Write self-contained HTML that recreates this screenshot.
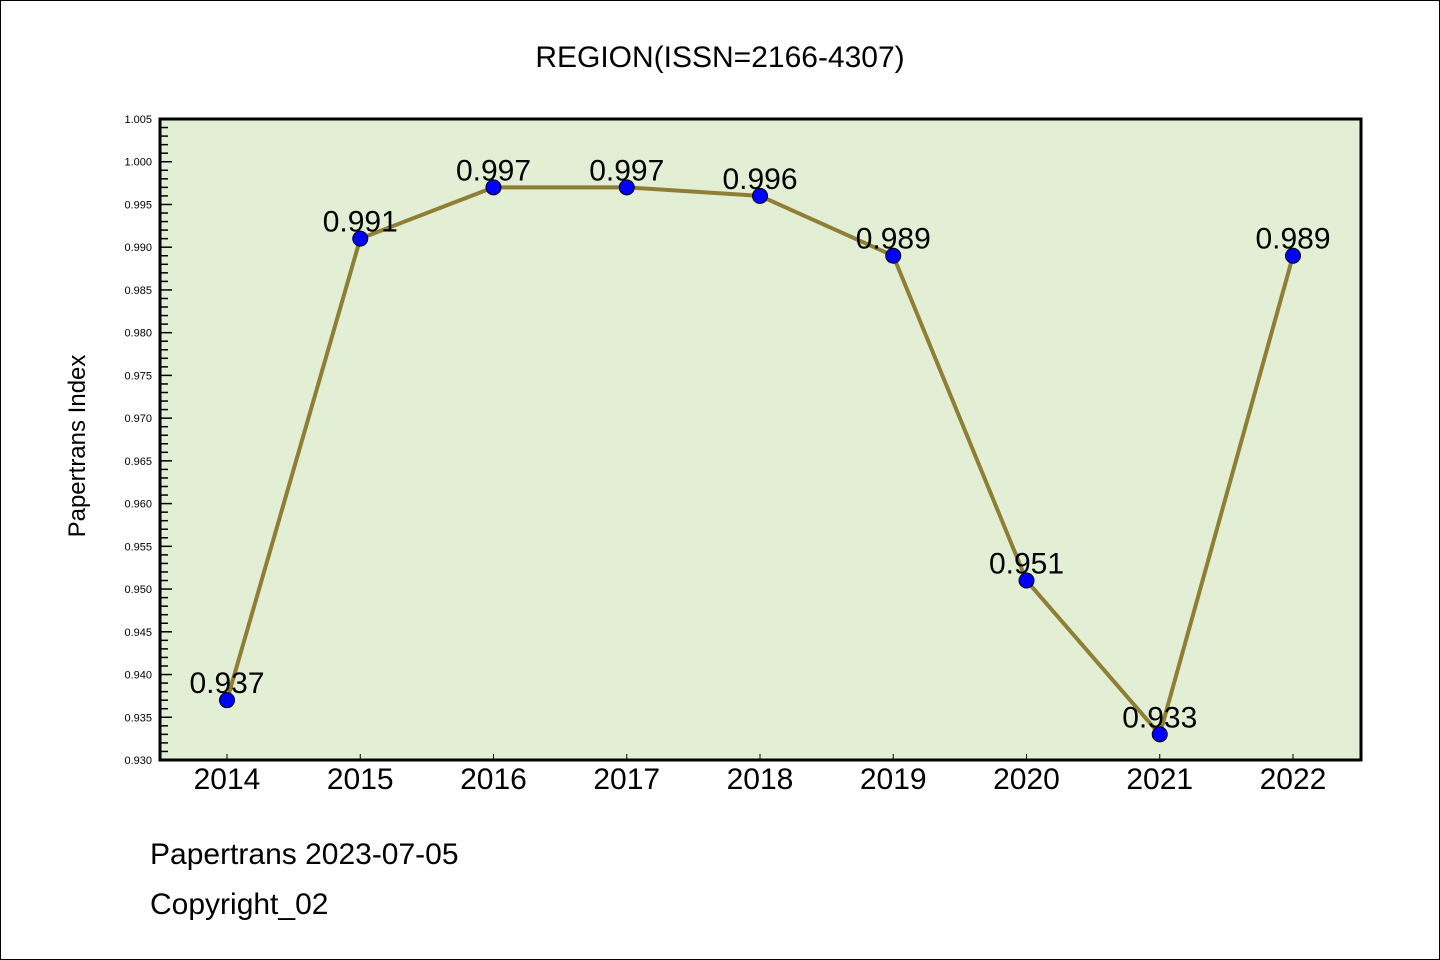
<!DOCTYPE html>
<html><head><meta charset="utf-8"><style>
html,body{margin:0;padding:0;background:#fff}
svg{display:block}
text{font-family:"WenQuanYi Zen Hei Mono","WenQuanYi Zen Hei","Liberation Sans",sans-serif}
</style></head><body>
<svg id="chart" width="1440" height="960" viewBox="0 0 1440 960">
<rect x="0.5" y="0.5" width="1439" height="959" fill="#fff" stroke="#000"/>
<text x="720" y="67" font-size="30" text-anchor="middle">REGION(ISSN=2166-4307)</text>
<rect x="160" y="119" width="1201" height="641" fill="#e2efd5"/>
<g id="yaxis"></g>
<g id="xaxis"></g>
<g id="series"></g>
<rect x="160" y="119" width="1201" height="641" fill="none" stroke="#000" stroke-width="3"/>
<text transform="translate(85,446) rotate(-90)" font-size="24" text-anchor="middle">Papertrans Index</text>
<text x="150" y="864" font-size="30">Papertrans 2023-07-05</text>
<text x="150" y="914" font-size="30">Copyright_02</text>
</svg>
<script>
const years = ["2014","2015","2016","2017","2018","2019","2020","2021","2022"];
const values = [0.937,0.991,0.997,0.997,0.996,0.989,0.951,0.933,0.989];
const valueLabels = ["0.937","0.991","0.997","0.997","0.996","0.989","0.951","0.933","0.989"];
const yTickLabels = ["0.930","0.935","0.940","0.945","0.950","0.955","0.960","0.965","0.970","0.975","0.980","0.985","0.990","0.995","1.000","1.005"];
const yMin=0.930,yMax=1.005,plotTop=119,plotBot=760,plotLeft=160;
const NS="http://www.w3.org/2000/svg";
function yScale(v){return plotBot-(v-yMin)/(yMax-yMin)*(plotBot-plotTop);}
function xScale(i){return 227+i*133.25;}
function mk(tag,attrs,parent){const e=document.createElementNS(NS,tag);for(const k in attrs)e.setAttribute(k,attrs[k]);parent.appendChild(e);return e;}
const ya=document.getElementById('yaxis'),xa=document.getElementById('xaxis'),sg=document.getElementById('series');
for(let k=0;k<=75;k++){
  const v=yMin+k*0.001, yy=yScale(v), major=k%5===0;
  const t=mk('line',{x1:plotLeft,x2:plotLeft+(major?12:8),y1:yy,y2:yy,stroke:'#000','stroke-width':1.5},ya);
  
  
}
yTickLabels.forEach(s=>{
  const t=mk('text',{x:152,y:yScale(parseFloat(s))+4,'font-size':11,'text-anchor':'end'},ya);
  t.textContent=s;
  
  
});
years.forEach((s,i)=>{
  const l=mk('line',{x1:xScale(i),x2:xScale(i),y1:plotBot,y2:plotBot-6,stroke:'#000','stroke-width':1},xa);
  
  
  const t=mk('text',{x:xScale(i),y:789,'font-size':30,'text-anchor':'middle'},xa);
  t.textContent=s;
  
  
});
const pts=values.map((v,i)=>xScale(i)+','+yScale(v)).join(' ');
const pl=mk('polyline',{points:pts,fill:'none',stroke:'#8f7f35','stroke-width':4,'stroke-linejoin':'round'},sg);


values.forEach((v,i)=>{
  const c=mk('circle',{cx:xScale(i),cy:yScale(v),r:7.5,fill:'#0000ff',stroke:'#000','stroke-width':1},sg);
  
  
});
values.forEach((v,i)=>{
  const t=mk('text',{x:xScale(i),y:yScale(v)-7,'font-size':30,'text-anchor':'middle'},sg);
  t.textContent=valueLabels[i];
  
  
});
</script>
</body></html>
